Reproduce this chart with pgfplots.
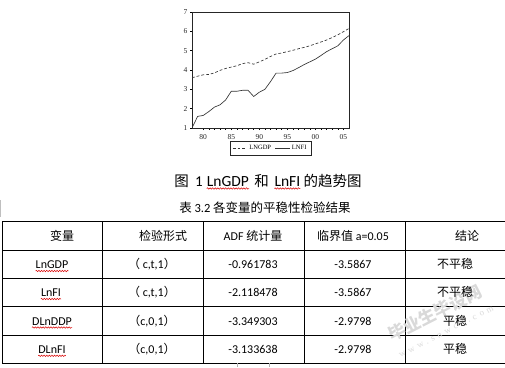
\documentclass[border=0pt]{standalone}
\usepackage{fontspec}
\setmainfont{Carlito}
\newfontfamily\cjk{Noto Sans CJK SC}
\newfontfamily\serifc{Liberation Serif}
\newfontfamily\serifw[LetterSpace=40]{Liberation Serif}
\usepackage{pgfplots}
\pgfplotsset{compat=1.18}
\usetikzlibrary{decorations.pathmorphing}
\begin{document}
\begin{tikzpicture}[x=1pt,y=-1pt,
  wavy/.style={draw=red!85!black, line width=0.5pt, decorate, decoration={snake, amplitude=0.7pt, segment length=2.6pt}},
  tc/.style={inner sep=0pt, anchor=base, font=\fontsize{12}{12}\selectfont}]
\useasboundingbox (0,0) rectangle (505,367);
\begin{axis}[at={(192pt,-128pt)}, anchor=south west, scale only axis,
  width=157pt, height=116pt,
  xmin=1978, xmax=2006, ymin=1, ymax=7,
  xtick={1980,1985,...,2005}, xticklabels={80,85,90,95,00,05},
  minor x tick num=4, ytick={1,...,7},
  tick align=outside, xtick pos=bottom, ytick pos=left,
  major tick length=2pt, minor tick length=1.5pt,
  tick style={black, line width=0.5pt},
  /pgf/number format/assume math mode=true,
  tick label style={font=\serifc\fontsize{7.5}{7.5}\selectfont, text=black!85},
  xticklabel style={yshift=-1pt},
  yticklabel style={xshift=1pt},
  axis line style={black!85, line width=0.8pt},
  legend style={at={(0.5,-0.112)}, anchor=north, legend columns=2,
    font=\serifc\fontsize{6.5}{6.5}\selectfont, draw=black!85, line width=0.5pt,
    inner xsep=2.5pt, inner ysep=2pt,
    /tikz/every even column/.append style={column sep=2pt}},
  legend image code/.code={\draw[#1] (0pt,0pt) -- (0.5cm,0pt);},
]
\addplot[black!80, line width=0.65pt, dash pattern=on 2.8pt off 2pt] coordinates {
(1978,3.60) (1979,3.68) (1980,3.75) (1981,3.77) (1982,3.85) (1983,3.98)
(1984,4.08) (1985,4.15) (1986,4.22) (1987,4.33) (1988,4.38) (1989,4.30)
(1990,4.42) (1991,4.55) (1992,4.70) (1993,4.83) (1994,4.88) (1995,4.95)
(1996,5.02) (1997,5.10) (1998,5.17) (1999,5.25) (2000,5.35) (2001,5.45)
(2002,5.55) (2003,5.68) (2004,5.82) (2005,5.98) (2006,6.15)};
\addlegendentry{LNGDP}
\addplot[black!80, line width=0.65pt] coordinates {
(1978,1.00) (1979,1.60) (1980,1.65) (1981,1.85) (1982,2.08) (1983,2.20)
(1984,2.45) (1985,2.90) (1986,2.90) (1987,2.95) (1988,2.95) (1989,2.63)
(1990,2.85) (1991,3.00) (1992,3.40) (1993,3.84) (1994,3.84) (1995,3.87)
(1996,3.97) (1997,4.12) (1998,4.28) (1999,4.42) (2000,4.56) (2001,4.75)
(2002,4.95) (2003,5.10) (2004,5.25) (2005,5.55) (2006,5.78)};
\addlegendentry{LNFI}
\end{axis}
% caption
\node[inner sep=0pt, anchor=base] at (181.7,186) {\cjk\fontsize{14.5}{14.5}\selectfont 图};
\node[inner sep=0pt, anchor=base] at (199,186) {\fontsize{15}{15}\selectfont 1};
\node[inner sep=0pt, anchor=base west] (c1) at (206.7,186) {\fontsize{15.5}{15.5}\selectfont LnGDP};
\node[inner sep=0pt, anchor=base] at (261.7,186) {\cjk\fontsize{14.5}{14.5}\selectfont 和};
\node[inner sep=0pt, anchor=base west] (c2) at (274.3,186) {\fontsize{15.5}{15.5}\selectfont LnFI};
\node[inner sep=0pt, anchor=base west] at (303.3,186) {\cjk\fontsize{14.5}{14.5}\selectfont 的趋势图};
\draw[wavy] ([yshift=-2.5pt]c1.base west) -- ([yshift=-2.5pt]c1.base east);
\draw[wavy] ([yshift=-2.5pt]c2.base west) -- ([yshift=-2.5pt]c2.base east);
% table title
\node[inner sep=0pt, anchor=base] at (265,212) {\fontsize{12.5}{12.5}\selectfont{\cjk 表} 3.2 {\cjk 各变量的平稳性检验结果}};
% faint left mark
\draw[black!25, line width=1pt] (0.5,200) -- (0.5,217);
% table lines
\foreach \yy in {221.7,250.7,278.7,306.7,335.3,363.3} \draw[black, line width=0.9pt] (2,\yy) -- (505,\yy);
\foreach \xx in {2,102.3,203.3,304.3,405} \draw[black, line width=0.9pt] (\xx,221.7) -- (\xx,363.3);
\draw[black!30, line width=0.6pt] (237,363.3) -- (237,367) (269,363.3) -- (269,367);
% watermark
\node[rotate=27, text=black!15, inner sep=0pt] at (435,313) {\cjk\bfseries\fontsize{17}{17}\selectfont 毕业生毕设网};
\node[rotate=27, text=black!15, inner sep=0pt] at (446,331) {\serifw\fontsize{9}{9}\selectfont www.snwcd.com};
% header row
\node[tc] at (62,240) {\cjk 变量};
\node[tc] at (163,240) {\cjk 检验形式};
\node[tc] at (253,240) {ADF {\cjk 统计量}};
\node[tc] at (353,240) {{\cjk 临界值} a=0.05};
\node[tc] at (467,240) {\cjk 结论};
% rows
\node[tc] (r1) at (52,268.5) {LnGDP};
\node[tc] (r2) at (51,296.5) {LnFI};
\node[tc] (r3) at (52,325) {DLnDDP};
\node[tc] (r4) at (52,353.3) {DLnFI};
\foreach \n in {r1,r2,r3,r4} \draw[wavy] ([yshift=-2.5pt]\n.base west) -- ([yshift=-2.5pt]\n.base east);
\node[tc] at (152,268.5) {{\cjk （} c,t,1{\cjk ）}};
\node[tc] at (152,296.5) {{\cjk （} c,t,1{\cjk ）}};
\node[tc] at (152,325) {{\cjk （}c,0,1{\cjk ）}};
\node[tc] at (152,353.3) {{\cjk （}c,0,1{\cjk ）}};
\node[tc] at (253,268.5) {-0.961783};
\node[tc] at (253,296.5) {-2.118478};
\node[tc] at (253,325) {-3.349303};
\node[tc] at (253,353.3) {-3.133638};
\node[tc] at (353,268.5) {-3.5867};
\node[tc] at (353,296.5) {-3.5867};
\node[tc] at (353,325) {-2.9798};
\node[tc] at (353,353.3) {-2.9798};
\node[tc] at (455,268.5) {\cjk 不平稳};
\node[tc] at (455,296.5) {\cjk 不平稳};
\node[tc] at (455,325) {\cjk 平稳};
\node[tc] at (455,353.3) {\cjk 平稳};
\end{tikzpicture}
\end{document}
